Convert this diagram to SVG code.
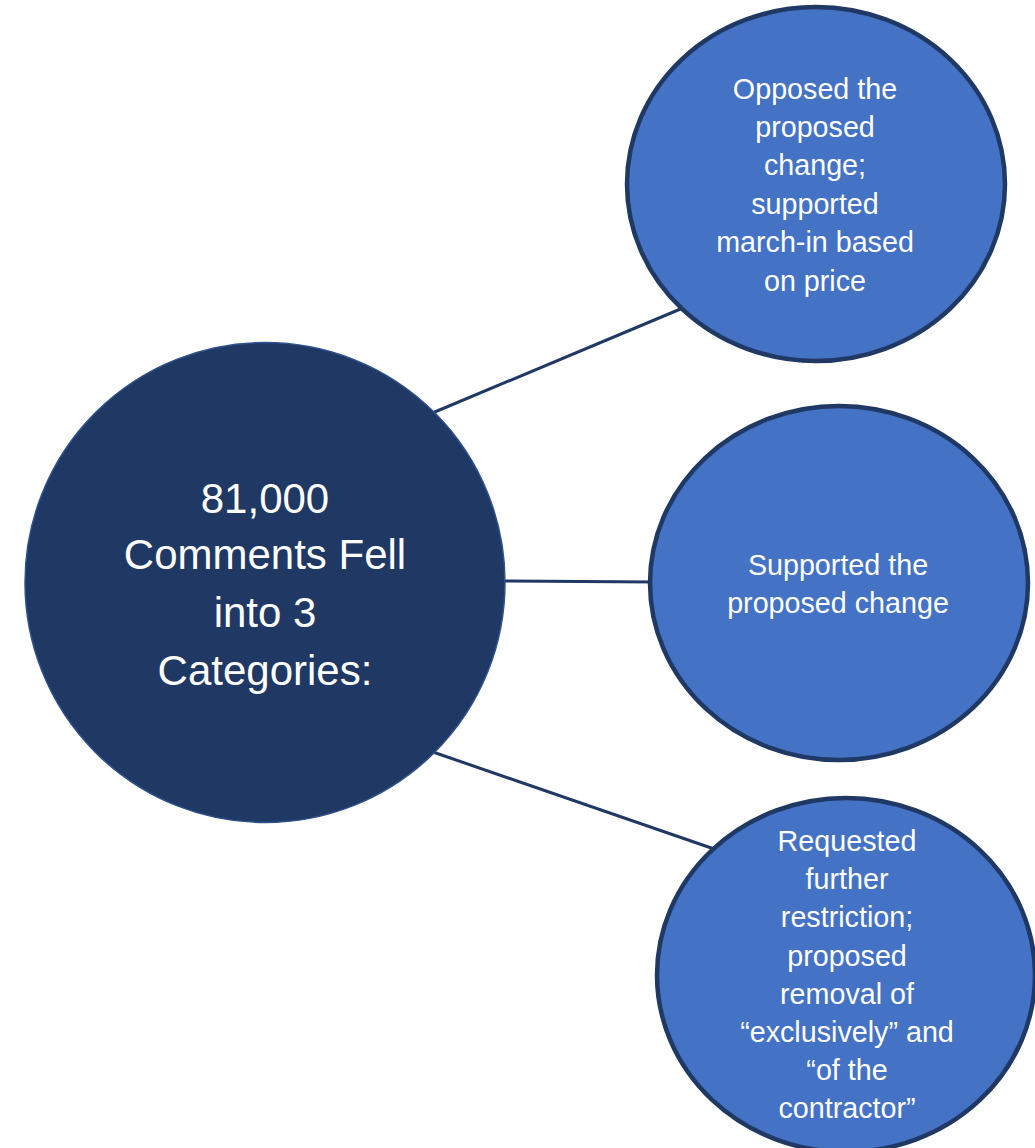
<svg xmlns="http://www.w3.org/2000/svg" width="1035" height="1148" viewBox="0 0 1035 1148">
<style>
.conn{stroke:#203864;stroke-width:3;fill:none}
.main{fill:#203864;stroke:#2F528F;stroke-width:1.5}
.sub{fill:#4472C4;stroke:#203864;stroke-width:4.5}
.big{font-family:"Liberation Sans",Arial,sans-serif;font-size:42px;fill:#ffffff;text-anchor:middle}
.small{font-family:"Liberation Sans",Arial,sans-serif;font-size:28.7px;fill:#ffffff;text-anchor:middle}
</style>
<rect width="1035" height="1148" fill="#ffffff"/>
<g id="connectors">
<line class="conn" x1="430" y1="414" x2="690" y2="305"/>
<line class="conn" x1="500" y1="581" x2="655" y2="582"/>
<line class="conn" x1="430" y1="751" x2="720" y2="851"/>
</g>
<g id="node-main">
<circle class="main" cx="265" cy="582.5" r="240"/>
<text class="big" x="265" y="513">81,000</text>
<text class="big" x="265" y="569">Comments Fell</text>
<text class="big" x="265" y="627">into 3</text>
<text class="big" x="265" y="685">Categories:</text>
</g>
<g id="node-opposed">
<ellipse class="sub" cx="816" cy="184" rx="189" ry="177"/>
<text class="small" x="815" y="99">Opposed the</text>
<text class="small" x="815" y="137">proposed</text>
<text class="small" x="815" y="175">change;</text>
<text class="small" x="815" y="214">supported</text>
<text class="small" x="815" y="252">march-in based</text>
<text class="small" x="815" y="291">on price</text>
</g>
<g id="node-supported">
<ellipse class="sub" cx="839" cy="583" rx="189" ry="177"/>
<text class="small" x="838" y="575">Supported the</text>
<text class="small" x="838" y="613">proposed change</text>
</g>
<g id="node-requested">
<ellipse class="sub" cx="846" cy="975" rx="189" ry="177"/>
<text class="small" x="847" y="851">Requested</text>
<text class="small" x="847" y="889">further</text>
<text class="small" x="847" y="927">restriction;</text>
<text class="small" x="847" y="966">proposed</text>
<text class="small" x="847" y="1004">removal of</text>
<text class="small" x="847" y="1042">“exclusively” and</text>
<text class="small" x="847" y="1080">“of the</text>
<text class="small" x="847" y="1118">contractor”</text>
</g>
</svg>
